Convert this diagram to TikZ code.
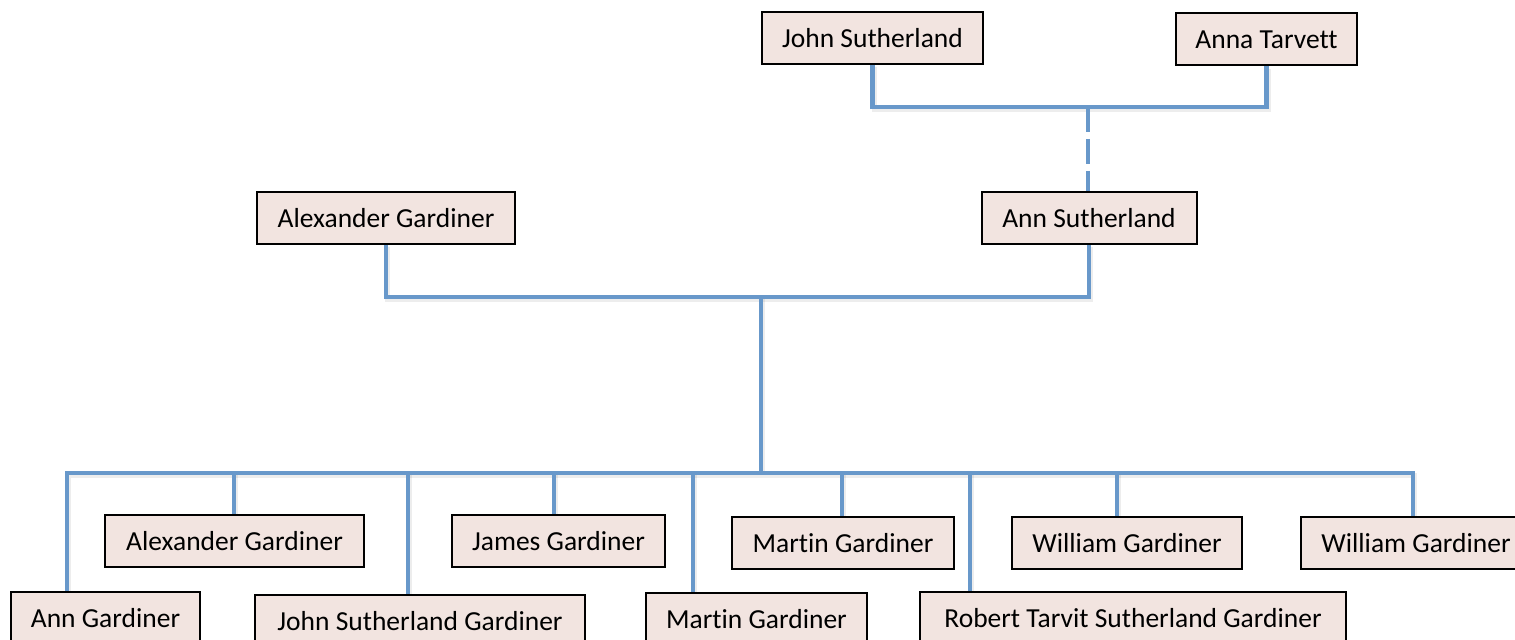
\documentclass[tikz,border=0pt]{standalone}
\usepackage{fontspec}
\setmainfont{Carlito}[RawFeature={-liga}]
\pgfdeclarelayer{bg}
\pgfsetlayers{bg,main}
\definecolor{linkblue}{RGB}{104,152,202}
\definecolor{boxfill}{RGB}{242,228,224}
\tikzset{
  person/.style={draw=black, line width=1pt, fill=boxfill, rectangle,
    inner sep=0pt, minimum height=26pt,
    font=\fontsize{13.75}{16}\selectfont, text=black},
  wd/.style={minimum width=#1*0.5pt},
  plainlink/.style={draw=linkblue, line width=2.1pt},
  link/.style={plainlink,
    preaction={draw=black, opacity=0.07, line width=2.6pt,
      transform canvas={shift={(0.8pt,-1.2pt)}}}},
  parentlink/.style={plainlink, dash pattern=on 12.5pt off 3.5pt}
}
\begin{document}
\begin{tikzpicture}[x=0.5pt, y=-0.5pt]
\useasboundingbox (0,0) rectangle (1515,640);
\clip (0,0) rectangle (1515,640);

% grandparents
\node[person, wd=221] (js) at (872.5,38) {John Sutherland};
\node[person, wd=181] (at) at (1266.5,39.5) {Anna Tarvett};

% parents
\node[person, wd=258] (ag) at (386,218) {Alexander Gardiner};
\node[person, wd=215] (as) at (1089,218) {Ann Sutherland};

% children, upper row
\node[person, wd=259] (alex) at (234.5,541) {Alexander Gardiner};
\node[person, wd=213] (james) at (558.5,541) {James Gardiner};
\node[person, wd=222] (martinb) at (843,543) {Martin Gardiner};
\node[person, wd=230] (willa) at (1127,543) {William Gardiner};
\node[person, wd=230] (willb) at (1416,543) {William Gardiner};

% children, lower row
\node[person, wd=189] (ann) at (105.5,618) {Ann Gardiner};
\node[person, wd=330] (john) at (420,621) {John Sutherland Gardiner};
\node[person, wd=221] (martina) at (756.5,619) {Martin Gardiner};
\node[person, wd=426] (robert) at (1133,618) {Robert Tarvit Sutherland Gardiner};

% junction points
\coordinate (topjoin) at (1088,107);
\coordinate (midjoin) at (761,297);
\coordinate (b1) at (67,473);
\coordinate (b2) at (234,473);
\coordinate (b3) at (408,473);
\coordinate (b4) at (554,473);
\coordinate (b5) at (693,473);
\coordinate (b6) at (842,473);
\coordinate (b7) at (970,473);
\coordinate (b8) at (1117,473);
\coordinate (b9) at (1413,473);

\begin{pgfonlayer}{bg}
  % grandparents to Ann Sutherland
  \draw[link] (js.south) |- (topjoin) -| (at.south);
  \draw[parentlink] (topjoin) -- (topjoin |- as.north);
  % parents to children
  \draw[link] (ag.south) |- (midjoin) -| (as.south);
  \draw[link] (midjoin) -- (midjoin |- b1);
  \draw[link] (b1 |- ann.north) -- (b1) -- (b9) -- (b9 |- willb.north);
  \draw[link] (b2) -- (b2 |- alex.north);
  \draw[link] (b3) -- (b3 |- john.north);
  \draw[link] (b4) -- (b4 |- james.north);
  \draw[link] (b5) -- (b5 |- martina.north);
  \draw[link] (b6) -- (b6 |- martinb.north);
  \draw[link] (b7) -- (b7 |- robert.north);
  \draw[link] (b8) -- (b8 |- willa.north);
\end{pgfonlayer}
\end{tikzpicture}
\end{document}
